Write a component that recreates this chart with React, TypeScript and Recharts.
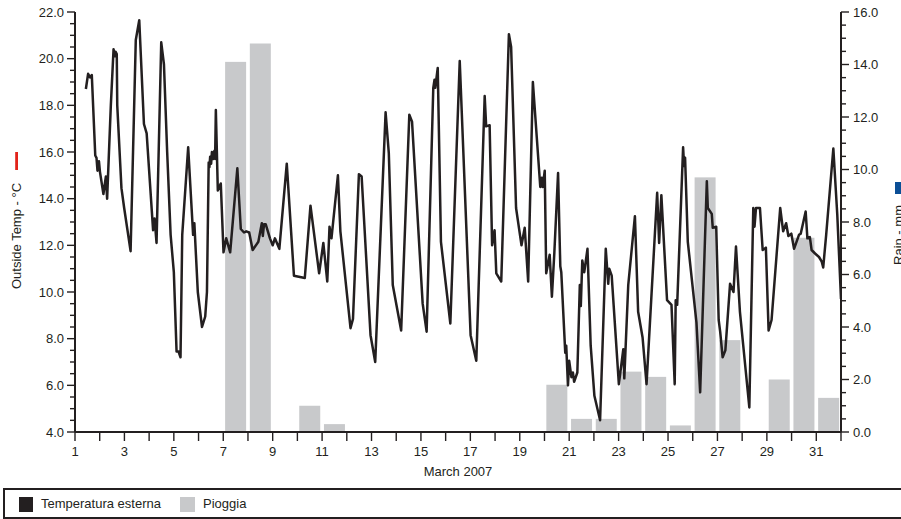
import React from 'react';
import { ComposedChart, Line, Bar, XAxis, YAxis, Legend } from 'recharts';

// hourly-ish outside temperature readings, day of month (fractional) -> °C
const tempDay = [
  1.44, 1.53, 1.61, 1.68, 1.82, 1.87, 1.91, 1.97, 2.01, 2.15, 2.25, 2.3, 2.45, 2.56, 2.61, 2.64, 2.69, 2.71,
  2.88, 2.99, 3.25, 3.46, 3.6, 3.79, 3.9, 4.16, 4.22, 4.3, 4.49, 4.6, 4.73, 4.87, 5.0, 5.11, 5.19, 5.27, 5.34,
  5.58, 5.78, 5.83, 5.97, 6.14, 6.27, 6.34, 6.41, 6.44, 6.47, 6.51, 6.54, 6.59, 6.64, 6.67, 6.7, 6.78, 6.9,
  7.01, 7.12, 7.28, 7.57, 7.71, 7.84, 7.93, 8.05, 8.19, 8.42, 8.56, 8.6, 8.65, 8.72, 8.89, 9.0, 9.09, 9.27,
  9.57, 9.86, 10.3, 10.53, 10.88, 11.05, 11.21, 11.3, 11.38, 11.64, 11.74, 12.15, 12.25, 12.49, 12.6, 12.96,
  13.15, 13.57, 13.7, 13.86, 14.2, 14.53, 14.64, 15.07, 15.23, 15.5, 15.55, 15.58, 15.68, 15.81, 16.19, 16.57,
  17.01, 17.24, 17.58, 17.64, 17.78, 17.88, 17.98, 18.05, 18.25, 18.56, 18.65, 18.85, 19.07, 19.2, 19.34,
  19.53, 19.83, 19.89, 19.93, 20.01, 20.07, 20.21, 20.3, 20.4, 20.55, 20.64, 20.68, 20.84, 20.88, 20.95, 21.0,
  21.09, 21.15, 21.2, 21.33, 21.43, 21.47, 21.53, 21.61, 21.74, 21.87, 22.02, 22.25, 22.48, 22.58, 22.62,
  22.72, 23.01, 23.19, 23.23, 23.39, 23.66, 23.79, 23.97, 24.13, 24.56, 24.64, 24.73, 24.96, 25.14, 25.27,
  25.31, 25.37, 25.61, 25.65, 25.69, 25.8, 26.15, 26.3, 26.57, 26.61, 26.77, 26.81, 26.95, 27.05, 27.11,
  27.21, 27.32, 27.51, 27.65, 27.75, 27.91, 28.29, 28.45, 28.5, 28.56, 28.72, 28.83, 28.96, 29.07, 29.19,
  29.54, 29.66, 29.78, 29.87, 29.99, 30.1, 30.3, 30.37, 30.57, 30.64, 30.74, 30.81, 30.95, 31.11, 31.22,
  31.28, 31.4, 31.69, 31.85, 32.0,
];
const tempC = [
  18.7, 19.35, 19.2, 19.3, 15.85, 15.75, 15.2, 15.6, 15.15, 14.2, 14.95, 14.0, 18.0, 20.4, 20.1, 20.3, 20.2, 18.0,
  14.45, 13.6, 11.75, 20.8, 21.65, 17.2, 16.8, 12.65, 13.15, 12.1, 20.7, 19.75, 16.0, 12.45, 10.85, 7.45, 7.45,
  7.2, 12.45, 16.2, 12.45, 12.95, 10.0, 8.5, 8.95, 10.0, 15.55, 15.35, 15.8, 15.5, 16.0, 15.7, 16.05, 15.7,
  17.8, 14.35, 14.65, 11.7, 12.3, 11.7, 15.3, 12.7, 12.55, 12.6, 12.55, 11.8, 12.15, 12.95, 12.4, 12.9, 12.9,
  12.3, 12.0, 12.3, 11.85, 15.5, 10.7, 10.6, 13.7, 10.8, 12.1, 10.45, 12.8, 12.3, 15.0, 12.6, 8.45, 8.85, 15.05,
  14.95, 8.15, 7.0, 17.7, 15.95, 10.3, 8.35, 17.6, 17.3, 9.5, 8.3, 18.75, 19.1, 18.75, 19.6, 12.15, 8.65, 19.9,
  8.15, 7.05, 18.4, 17.1, 17.15, 12.0, 12.65, 10.8, 10.45, 21.05, 20.5, 13.6, 12.0, 12.75, 10.45, 19.0, 14.5,
  14.9, 14.5, 15.2, 10.8, 11.6, 9.8, 11.7, 15.1, 11.1, 10.85, 7.4, 7.7, 6.0, 7.05, 6.35, 6.55, 6.15, 6.55, 10.3,
  9.4, 11.35, 10.85, 11.85, 7.7, 5.55, 4.5, 11.85, 10.35, 11.0, 10.7, 6.05, 7.55, 6.3, 10.3, 13.25, 9.15, 8.05,
  6.05, 14.25, 12.1, 14.15, 9.65, 9.45, 6.05, 9.65, 9.45, 16.2, 15.4, 15.75, 12.15, 8.7, 5.7, 14.75, 13.6,
  13.35, 12.75, 12.8, 8.8, 8.3, 7.2, 7.5, 10.35, 10.0, 11.95, 9.15, 5.05, 13.6, 12.8, 13.6, 13.6, 11.8, 11.9,
  8.35, 8.8, 13.6, 12.6, 12.95, 12.4, 12.5, 11.85, 12.45, 12.5, 13.45, 12.3, 12.35, 11.8, 11.65, 11.5, 11.3,
  11.05, 12.45, 16.15, 13.3, 9.7,
];

// daily rainfall
const rainDay = [7, 8, 10, 11, 20, 21, 22, 23, 24, 25, 26, 27, 29, 30, 31];
const rainMm = [14.1, 14.8, 1.0, 0.3, 1.8, 0.5, 0.5, 2.3, 2.1, 0.25, 9.7, 3.5, 2.0, 7.4, 1.3];

const dayTicks = [1, 2, 3, 4, 5, 6, 7, 8, 9, 10, 11, 12, 13, 14, 15, 16, 17, 18, 19, 20, 21, 22, 23, 24, 25, 26, 27, 28, 29, 30, 31, 32];
const tempTicks = Array.from({ length: 37 }, (_, i) => 4 + i * 0.5);
const rainTicks = Array.from({ length: 33 }, (_, i) => i * 0.5);

const INK = '#231f20';
const BAR = '#c8c9cb';
const FONT = '"Liberation Sans", Arial, Helvetica, sans-serif';

const rows = [
  ...tempDay.map((d, i) => ({ day: d, temp: tempC[i] })),
  ...rainDay.map((d, i) => ({ day: d + 0.5, rain: rainMm[i] })),
].sort((a, b) => a.day - b.day);

const LeftTick = ({ x, y, payload }: any) => {
  const v = payload.value;
  const major = Math.abs(v % 2) < 1e-6;
  return (
    <g>
      <line x1={x - (major ? 8 : 5)} x2={x} y1={y} y2={y} stroke={INK} strokeWidth={1.4} />
      {major && (
        <text x={x - 11} y={y} dy="0.36em" textAnchor="end" fontSize={13} fontFamily={FONT} fill={INK}>
          {v.toFixed(1)}
        </text>
      )}
    </g>
  );
};

const RightTick = ({ x, y, payload }: any) => {
  const v = payload.value;
  const major = Math.abs(v % 2) < 1e-6;
  return (
    <g>
      <line x1={x} x2={x + (major ? 8 : 5)} y1={y} y2={y} stroke={INK} strokeWidth={1.4} />
      {major && (
        <text x={x + 12} y={y} dy="0.36em" textAnchor="start" fontSize={13} fontFamily={FONT} fill={INK}>
          {v.toFixed(1)}
        </text>
      )}
    </g>
  );
};

const DayTick = ({ x, y, payload }: any) => {
  const v = payload.value;
  return (
    <g>
      <line x1={x} x2={x} y1={y} y2={y + 9} stroke={INK} strokeWidth={1.4} />
      {v % 2 === 1 && v < 32 && (
        <text x={x} y={y + 19} dy="0.36em" textAnchor="middle" fontSize={13} fontFamily={FONT} fill={INK}>
          {v}
        </text>
      )}
    </g>
  );
};

// fixed-width daily bar, centred on the middle of its day
const RainBar = (props: any) => {
  const { x, y, width, height, fill } = props;
  if (!height || height <= 0) return null;
  const cx = x + width / 2;
  return <rect x={cx - 10.5} y={y} width={21} height={height} fill={fill} />;
};

const TempLabel = ({ viewBox }: any) => {
  const cx = viewBox.x + 16.5;
  const cy = viewBox.y + viewBox.height / 2 + 14;
  return (
    <g>
      <rect x={cx - 1.3} y={cy - 84} width={2.8} height={18} fill="#e2231a" />
      <text x={cx} y={cy} transform={`rotate(-90 ${cx} ${cy})`} textAnchor="middle" dominantBaseline="central"
        fontSize={13} fontFamily={FONT} fill={INK}>
        Outside Temp - °C
      </text>
    </g>
  );
};

const RainLabel = ({ viewBox }: any) => {
  const cx = viewBox.x + 57;
  const cy = viewBox.y + viewBox.height / 2 + 13;
  return (
    <g>
      <rect x={cx - 3} y={cy - 53} width={12} height={12} fill="#0b4f96" />
      <text x={cx} y={cy} transform={`rotate(-90 ${cx} ${cy})`} textAnchor="middle" dominantBaseline="central"
        fontSize={13} fontFamily={FONT} fill={INK}>
        Rain - mm
      </text>
    </g>
  );
};

const LegendBox = () => (
  <div style={{
    position: 'relative', boxSizing: 'border-box', height: 31,
    borderTop: `2px solid ${INK}`, borderBottom: `2px solid ${INK}`, borderLeft: `2px solid ${INK}`,
    fontFamily: FONT, fontSize: 13, color: INK,
  }}>
    <span style={{ position: 'absolute', left: 14, top: 7, width: 14, height: 15, background: INK }} />
    <span style={{ position: 'absolute', left: 36, top: 6, lineHeight: '16px' }}>Temperatura esterna</span>
    <span style={{ position: 'absolute', left: 175, top: 7, width: 15, height: 15, background: BAR }} />
    <span style={{ position: 'absolute', left: 198, top: 6, lineHeight: '16px' }}>Pioggia</span>
  </div>
);

export default function App() {
  return (
    <div style={{ position: 'absolute', left: 0, top: 0, width: 901, height: 519, background: '#fff' }}>
      <ComposedChart width={901} height={519} data={rows} margin={{ top: 12, right: 0, left: 0, bottom: 0 }}>
        <XAxis
          dataKey="day"
          type="number"
          domain={[1, 32]}
          ticks={dayTicks}
          interval={0}
          allowDataOverflow
          height={56}
          tickSize={0}
          tickMargin={0}
          tickLine={false}
          stroke={INK}
          strokeWidth={2}
          tick={<DayTick />}
          label={{ value: 'March 2007', position: 'insideBottom', offset: 12, fontSize: 13, fontFamily: FONT, fill: INK }}
        />
        <YAxis
          yAxisId="temp"
          orientation="left"
          domain={[4, 22]}
          ticks={tempTicks}
          interval={0}
          width={75}
          tickSize={0}
          tickMargin={0}
          tickLine={false}
          stroke={INK}
          strokeWidth={2}
          tick={<LeftTick />}
          label={<TempLabel />}
        />
        <YAxis
          yAxisId="rain"
          orientation="right"
          domain={[0, 16]}
          ticks={rainTicks}
          interval={0}
          width={60}
          tickSize={0}
          tickMargin={0}
          tickLine={false}
          stroke={INK}
          strokeWidth={2}
          tick={<RightTick />}
          label={<RainLabel />}
        />
        <Legend
          verticalAlign="bottom"
          width={898}
          wrapperStyle={{ left: 3, width: 898 }}
          content={() => <LegendBox />}
        />
        <Bar yAxisId="rain" dataKey="rain" name="Pioggia" fill={BAR} shape={<RainBar />} isAnimationActive={false} />
        <Line
          yAxisId="temp"
          dataKey="temp"
          name="Temperatura esterna"
          type="linear"
          stroke={INK}
          strokeWidth={2.5}
          strokeLinejoin="round"
          dot={false}
          activeDot={false}
          connectNulls
          isAnimationActive={false}
        />
      </ComposedChart>
    </div>
  );
}
